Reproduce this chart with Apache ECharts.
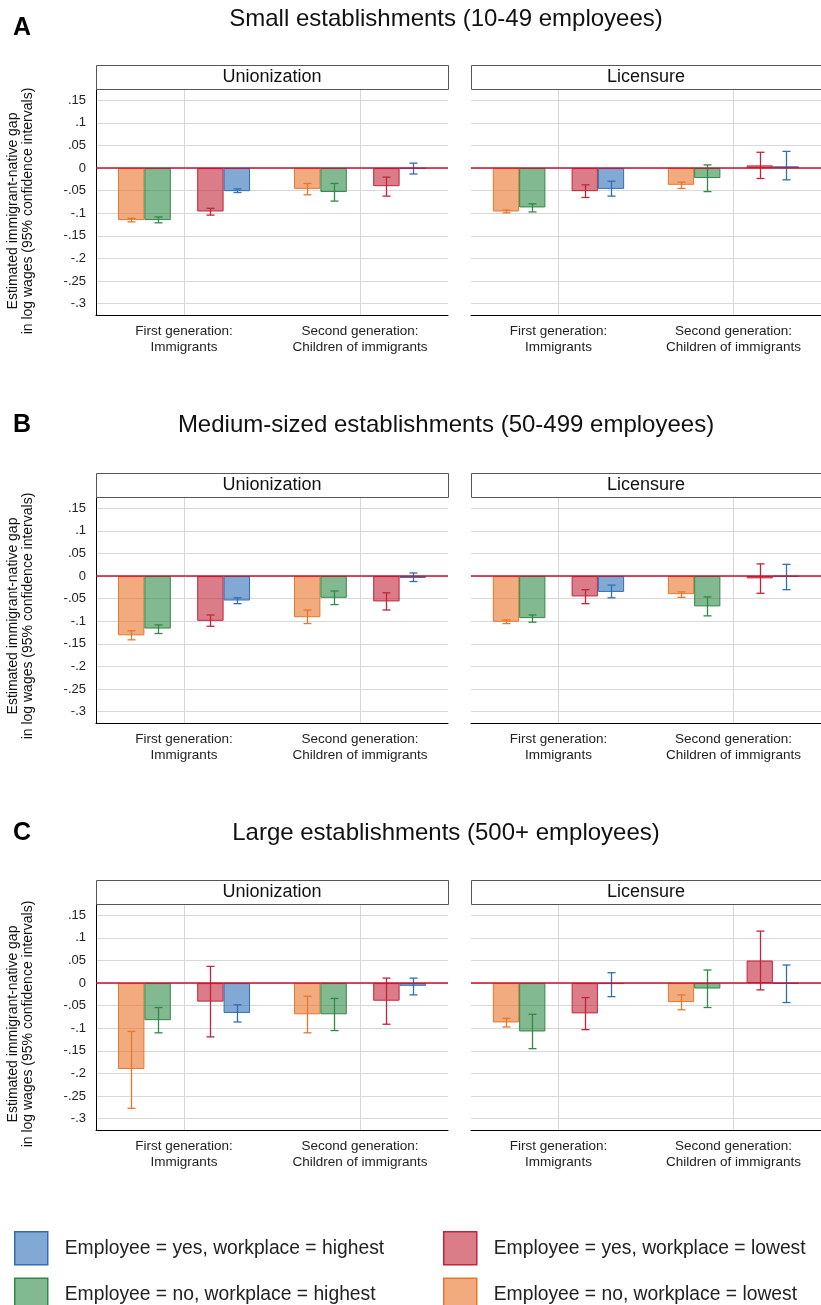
<!DOCTYPE html>
<html>
<head>
<meta charset="utf-8">
<script src="https://cdn.jsdelivr.net/npm/echarts@6/dist/echarts.min.js"></script>
<style>
  html, body { margin: 0; padding: 0; background: #fff; }
  #chart { width: 821px; height: 1305px; }
</style>
</head>
<body>
<div id="chart"></div>
<script>
// ---- data ----
const categories = ['First generation:\nImmigrants', 'Second generation:\nChildren of immigrants'];
const seriesNames = [
  'Employee = no, workplace = lowest',
  'Employee = no, workplace = highest',
  'Employee = yes, workplace = lowest',
  'Employee = yes, workplace = highest'
];
const panelTitles = ['Unionization', 'Licensure'];
const rowTitles = [
  'Small establishments (10-49 employees)',
  'Medium-sized establishments (50-499 employees)',
  'Large establishments (500+ employees)'
];
const rowLetters = ['A', 'B', 'C'];
const yAxisTitle = 'Estimated immigrant-native gap\nin log wages (95% confidence intervals)';

// one row per series (order of seriesNames), one column per category
const smallUnionEst = [[-0.115, -0.046], [-0.115, -0.053], [-0.096, -0.040], [-0.051, -0.001]];
const smallUnionLo  = [[-0.119, -0.059], [-0.121, -0.073], [-0.104, -0.062], [-0.054, -0.013]];
const smallUnionHi  = [[-0.111, -0.034], [-0.108, -0.034], [-0.089, -0.020], [-0.046, 0.011]];

const smallLicEst = [[-0.096, -0.037], [-0.087, -0.022], [-0.051, 0.006], [-0.046, 0.004]];
const smallLicLo  = [[-0.099, -0.045], [-0.097, -0.052], [-0.065, -0.023], [-0.062, -0.026]];
const smallLicHi  = [[-0.093, -0.031], [-0.079, 0.007], [-0.037, 0.035], [-0.029, 0.037]];

const mediumUnionEst = [[-0.131, -0.091], [-0.116, -0.048], [-0.099, -0.056], [-0.054, -0.004]];
const mediumUnionLo  = [[-0.141, -0.105], [-0.127, -0.063], [-0.111, -0.075], [-0.061, -0.012]];
const mediumUnionHi  = [[-0.121, -0.075], [-0.108, -0.033], [-0.086, -0.037], [-0.048, 0.007]];

const mediumLicEst = [[-0.101, -0.040], [-0.093, -0.067], [-0.045, -0.005], [-0.035, -0.001]];
const mediumLicLo  = [[-0.105, -0.047], [-0.102, -0.088], [-0.061, -0.038], [-0.048, -0.030]];
const mediumLicHi  = [[-0.097, -0.035], [-0.086, -0.046], [-0.030, 0.027], [-0.020, 0.026]];

const largeUnionEst = [[-0.190, -0.069], [-0.082, -0.069], [-0.041, -0.039], [-0.066, -0.006]];
const largeUnionLo  = [[-0.277, -0.110], [-0.110, -0.105], [-0.119, -0.091], [-0.086, -0.026]];
const largeUnionHi  = [[-0.107, -0.029], [-0.054, -0.034], [0.037, 0.011], [-0.048, 0.011]];

const largeLicEst = [[-0.087, -0.042], [-0.107, -0.012], [-0.067, 0.050], [-0.002, -0.001]];
const largeLicLo  = [[-0.097, -0.059], [-0.145, -0.054], [-0.103, -0.015], [-0.030, -0.043]];
const largeLicHi  = [[-0.078, -0.026], [-0.069, 0.029], [-0.032, 0.115], [0.023, 0.040]];

// ---- styles / layout ----
const FONT = 'Liberation Sans, Arial, Helvetica, sans-serif';
const lineColors = ['#E8772E', '#2F8A48', '#C3243A', '#2E6FB7'];
const fillColors = ['rgba(232,119,46,0.62)', 'rgba(47,138,72,0.6)', 'rgba(195,36,58,0.6)', 'rgba(46,111,183,0.6)'];
const slotOf = [0, 1, 3, 4];          // slot 2 stays empty
const rowTops = [89, 497, 904];
const rowTitleY = [19, 425, 833];
const rowLetterY = [28, 425, 833];
const rowYNameY = [211, 616, 1024];
const PLOT_H = 226;

const panels = [
  [smallUnionEst, smallUnionLo, smallUnionHi],
  [smallLicEst, smallLicLo, smallLicHi],
  [mediumUnionEst, mediumUnionLo, mediumUnionHi],
  [mediumLicEst, mediumLicLo, mediumLicHi],
  [largeUnionEst, largeUnionLo, largeUnionHi],
  [largeLicEst, largeLicLo, largeLicHi]
];

function tickFmt(v) {
  const k = Math.round(v * 20);
  if (Math.abs(v * 20 - k) > 1e-6) return '';
  if (k === 0) return '0';
  return String(k / 20).replace('0.', '.');
}

function errorBar(params, api) {
  const cat = api.value(0);
  const bw = api.size([1, 0])[0];
  const dx = (api.value(3) - 2) * bw * 0.75 / 5;
  const lo = api.coord([cat, api.value(1)]);
  const hi = api.coord([cat, api.value(2)]);
  const x = Math.round(lo[0] + dx) + 0.5;
  const style = { stroke: lineColors[api.value(4)], lineWidth: 1.3 };
  const cap = 4;
  return {
    type: 'group',
    children: [
      { type: 'line', shape: { x1: x, y1: lo[1], x2: x, y2: hi[1] }, style },
      { type: 'line', shape: { x1: x - cap, y1: lo[1], x2: x + cap, y2: lo[1] }, style },
      { type: 'line', shape: { x1: x - cap, y1: hi[1], x2: x + cap, y2: hi[1] }, style }
    ]
  };
}

const grids = [], xAxes = [], yAxes = [], series = [], graphics = [];

panels.forEach((pd, p) => {
  const r = Math.floor(p / 2), c = p % 2;
  const left = c ? 471 : 96;
  const width = c ? 350 : 352;
  const top = rowTops[r];
  grids.push({ left, top, width, height: PLOT_H });

  xAxes.push({
    type: 'category', gridIndex: p, data: categories,
    axisLine: { show: true, onZero: false, lineStyle: { color: '#000', width: 1 } },
    axisTick: { show: false },
    axisLabel: { interval: 0, fontSize: 13.5, lineHeight: 16, margin: 8, color: '#222', fontFamily: FONT },
    splitLine: { show: false }
  });

  yAxes.push({
    type: 'value', gridIndex: p, min: -0.325, max: 0.175, interval: 0.025,
    axisLine: { show: c === 0, lineStyle: { color: '#000', width: 1 } },
    axisTick: { show: false },
    axisLabel: { show: c === 0, formatter: tickFmt, fontSize: 13, color: '#222', margin: 10, fontFamily: FONT },
    splitLine: {
      show: true, showMinLine: true, showMaxLine: true,
      lineStyle: { color: ['rgba(0,0,0,0)', '#d8d8d8'], width: 1 }
    }
  });

  for (let s = 0; s < 5; s++) {
    if (s === 2) {
      series.push({
        type: 'bar', xAxisIndex: p, yAxisIndex: p, data: ['-', '-'],
        barGap: '0%', barCategoryGap: '25%', silent: true,
        markLine: {
          silent: true, symbol: 'none', label: { show: false }, animation: false,
          lineStyle: { color: '#d8d8d8', width: 1, type: 'solid' },
          data: [{ xAxis: 0 }, { xAxis: 1 }]
        }
      });
      continue;
    }
    const k = s < 2 ? s : s - 1;
    series.push({
      type: 'bar', name: seriesNames[k], xAxisIndex: p, yAxisIndex: p,
      data: pd[0][k], barGap: '0%', barCategoryGap: '25%', silent: true,
      itemStyle: { color: fillColors[k], borderColor: lineColors[k], borderWidth: 1 },
      emphasis: { disabled: true }
    });
  }

  const errData = [];
  for (let k = 0; k < 4; k++) {
    for (let j = 0; j < 2; j++) {
      errData.push([j, pd[1][k][j], pd[2][k][j], slotOf[k], k]);
    }
  }
  series.push({
    type: 'custom', xAxisIndex: p, yAxisIndex: p, z: 4, silent: true,
    data: errData, encode: { x: 0, y: [1, 2] }, renderItem: errorBar,
    markLine: {
      silent: true, symbol: 'none', label: { show: false }, animation: false,
      lineStyle: { color: '#C8102E', width: 1.5, type: 'solid' },
      data: [{ yAxis: 0 }]
    }
  });

  // facet header box
  graphics.push({
    type: 'rect', z: 10,
    shape: { x: left + 0.5, y: top - 24 + 0.5, width: width, height: 24 },
    style: { fill: '#fff', stroke: '#555', lineWidth: 1 }
  });
  graphics.push({
    type: 'text', z: 11, x: left + width / 2, y: top - 12,
    style: { text: panelTitles[c], fontSize: 18, fontFamily: FONT, fill: '#111', align: 'center', verticalAlign: 'middle' }
  });
});

rowTitles.forEach((t, r) => {
  graphics.push({
    type: 'text', x: 446, y: rowTitleY[r],
    style: { text: t, fontSize: 24, fontFamily: FONT, fill: '#111', align: 'center', verticalAlign: 'middle' }
  });
  graphics.push({
    type: 'text', x: 13, y: rowLetterY[r],
    style: { text: rowLetters[r], fontSize: 25, fontWeight: 'bold', fontFamily: FONT, fill: '#000', align: 'left', verticalAlign: 'middle' }
  });
  graphics.push({
    type: 'text', x: 21, y: rowYNameY[r], rotation: Math.PI / 2,
    style: { text: yAxisTitle, fontSize: 14, lineHeight: 15, fontFamily: FONT, fill: '#111', align: 'center', verticalAlign: 'middle' }
  });
});

const legendText = { fontSize: 19.3, color: '#222', fontFamily: FONT, padding: [0, 0, 0, 12] };
const legendBase = {
  orient: 'vertical', top: 1231, height: 120, width: 380,
  itemWidth: 33, itemHeight: 33, itemGap: 12, padding: 0,
  icon: 'rect', selectedMode: false, textStyle: legendText,
  itemStyle: { borderWidth: 1.5 }
};

const option = {
  animation: false,
  backgroundColor: '#fff',
  textStyle: { fontFamily: FONT },
  legend: [
    Object.assign({ left: 14, data: [seriesNames[3], seriesNames[1]] }, legendBase),
    Object.assign({ left: 443, data: [seriesNames[2], seriesNames[0]] }, legendBase)
  ],
  grid: grids,
  xAxis: xAxes,
  yAxis: yAxes,
  series: series,
  graphic: graphics
};

const chart = echarts.init(document.getElementById('chart'));
chart.setOption(option);
</script>
</body>
</html>
